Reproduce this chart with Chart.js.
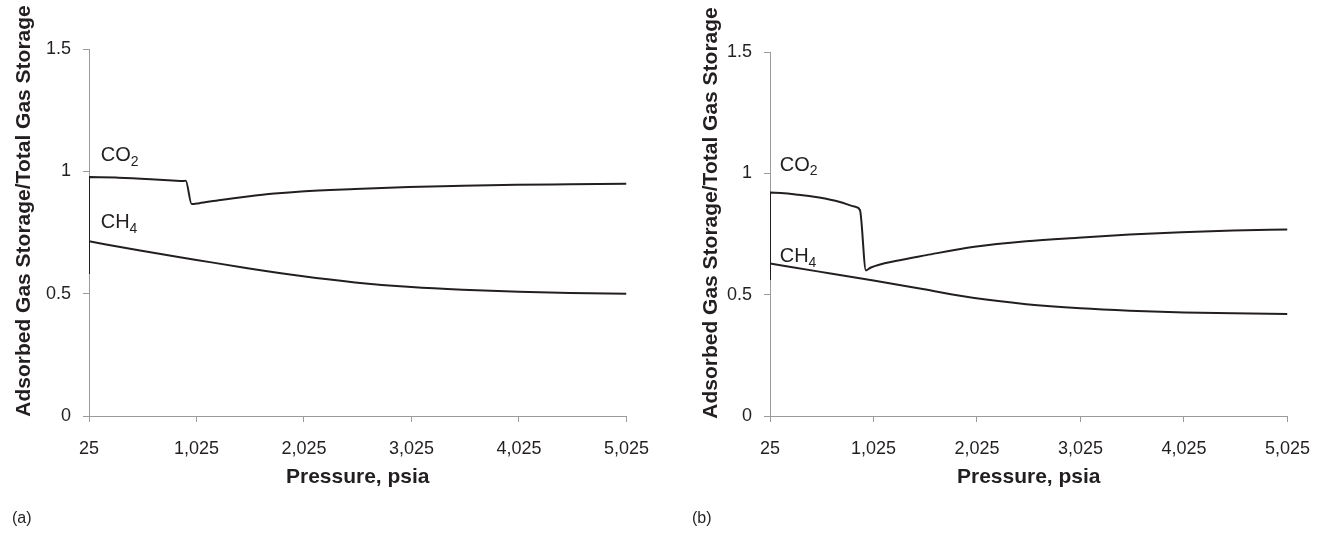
<!DOCTYPE html>
<html>
<head>
<meta charset="utf-8">
<script src="https://cdn.jsdelivr.net/npm/chart.js@4"></script>
<style>
  body { margin: 0; background: #fff; width: 1326px; height: 539px; overflow: hidden; font-family: "Liberation Sans", Arial, sans-serif; }
  .panel { position: absolute; top: 0; }
  .tag { position: absolute; top: 509px; font-size: 16px; color: #231f20; }
</style>
</head>
<body>
<div class="panel" style="left:0"><canvas id="chart-a" width="665" height="539"></canvas></div>
<div class="panel" style="left:680px"><canvas id="chart-b" width="646" height="539"></canvas></div>
<div class="tag" style="left:12px">(a)</div>
<div class="tag" style="left:692px">(b)</div>
<script>
// x axis ticks (pressure, psia)
const xTicks = [25, 1025, 2025, 3025, 4025, 5025];
const yTicks = [0, 0.5, 1, 1.5];

// (a) CO2
const pressA_co2 = [25, 25, 300, 600, 800, 900, 925, 980, 1050, 1250, 1500, 1750, 2000, 2500, 3000, 3500, 4000, 4500, 5025];
const ratioA_co2 = [0.58, 0.977, 0.974, 0.968, 0.963, 0.960, 0.962, 0.866, 0.870, 0.883, 0.897, 0.909, 0.918, 0.928, 0.936, 0.941, 0.945, 0.947, 0.949];
// (a) CH4
const pressA_ch4 = [25, 500, 1025, 1500, 2000, 2500, 3025, 3500, 4025, 4500, 5025];
const ratioA_ch4 = [0.714, 0.676, 0.638, 0.604, 0.572, 0.546, 0.527, 0.516, 0.508, 0.503, 0.500];

// (b) CO2
const pressB_co2 = [25, 25, 300, 500, 700, 850, 894, 952, 1000, 1250, 1537, 2000, 2500, 3000, 3500, 4000, 4500, 5025];
const ratioB_co2 = [0.56, 0.921, 0.912, 0.900, 0.882, 0.862, 0.849, 0.600, 0.612, 0.640, 0.663, 0.697, 0.720, 0.735, 0.748, 0.757, 0.764, 0.769];
// (b) CH4
const pressB_ch4 = [25, 500, 1025, 1500, 2000, 2500, 3025, 3500, 4025, 4500, 5025];
const ratioB_ch4 = [0.628, 0.595, 0.558, 0.523, 0.486, 0.461, 0.444, 0.434, 0.427, 0.423, 0.420];

const yTitleText = 'Adsorbed Gas Storage/Total Gas Storage';
const xTitleText = 'Pressure, psia';

const textColor = '#231f20';
const axisColor = '#9a9a9a';
const fontFamily = '"Liberation Sans", Arial, sans-serif';

const toPoints = (xs, ys) => xs.map((x, i) => ({ x: x, y: ys[i] }));

// draws the CO2 / CH4 labels with subscripts at data positions
const seriesLabels = {
    id: 'seriesLabels',
    afterDatasetsDraw(chart, args, opts) {
        const ctx = chart.ctx;
        const xs = chart.scales.x, ys = chart.scales.y;
        ctx.save();
        ctx.fillStyle = textColor;
        ctx.textBaseline = 'middle';
        ctx.textAlign = 'left';
        opts.items.forEach(item => {
            const px = xs.getPixelForValue(item.x);
            const py = ys.getPixelForValue(item.y);
            ctx.font = '20px ' + fontFamily;
            ctx.fillText(item.text, px, py);
            const w = ctx.measureText(item.text).width;
            ctx.font = '14px ' + fontFamily;
            ctx.fillText(item.sub, px + w, py + 6);
        });
        ctx.restore();
    }
};

// y axis title, sits a bit higher than the plot centre like the original
const yTitle = {
    id: 'yTitle',
    afterDraw(chart, args, opts) {
        const ctx = chart.ctx;
        ctx.save();
        ctx.translate(opts.x, opts.y);
        ctx.rotate(-Math.PI / 2);
        ctx.textAlign = 'center';
        ctx.textBaseline = 'middle';
        ctx.fillStyle = textColor;
        ctx.font = 'bold 21px ' + fontFamily;
        ctx.fillText(yTitleText, 0, 0);
        ctx.restore();
    }
};

function makeChart(id, co2, ch4, labels, pad, yWidth, titlePos) {
    const ctx = document.getElementById(id).getContext('2d');
    return new Chart(ctx, {
        type: 'line',
        data: {
            datasets: [
                { label: 'CO2', data: co2, borderColor: textColor, borderWidth: 2, pointRadius: 0, cubicInterpolationMode: 'monotone', fill: false },
                { label: 'CH4', data: ch4, borderColor: textColor, borderWidth: 2, pointRadius: 0, cubicInterpolationMode: 'monotone', fill: false }
            ]
        },
        plugins: [seriesLabels, yTitle],
        options: {
            responsive: false,
            animation: false,
            layout: { padding: pad },
            plugins: {
                legend: { display: false },
                tooltip: { enabled: false },
                seriesLabels: { items: labels },
                yTitle: titlePos
            },
            scales: {
                x: {
                    type: 'linear',
                    min: 25,
                    max: 5025,
                    afterBuildTicks: axis => { axis.ticks = xTicks.map(v => ({ value: v })); },
                    afterFit: scale => { scale.height = 74; },
                    grid: { drawOnChartArea: false, drawTicks: true, tickLength: 6, color: axisColor },
                    border: { color: axisColor, width: 1 },
                    ticks: {
                        color: textColor, padding: 16, maxRotation: 0, autoSkip: false,
                        font: { family: fontFamily, size: 18 },
                        callback: v => v.toLocaleString('en-US')
                    },
                    title: {
                        display: true, text: xTitleText, color: textColor,
                        font: { family: fontFamily, size: 21, weight: 'bold' },
                        padding: { top: 0, bottom: 0 }
                    }
                },
                y: {
                    min: 0,
                    max: 1.5,
                    afterBuildTicks: axis => { axis.ticks = yTicks.map(v => ({ value: v })); },
                    afterFit: scale => { scale.width = yWidth; },
                    grid: { drawOnChartArea: false, drawTicks: true, tickLength: 6, color: axisColor },
                    border: { color: axisColor, width: 1 },
                    ticks: {
                        color: textColor, padding: 12,
                        font: { family: fontFamily, size: 18 },
                        callback: v => String(v)
                    },
                    title: { display: false }
                }
            }
        }
    });
}

makeChart('chart-a',
    toPoints(pressA_co2, ratioA_co2),
    toPoints(pressA_ch4, ratioA_ch4),
    [{ text: 'CO', sub: '2', x: 134, y: 1.064 }, { text: 'CH', sub: '4', x: 134, y: 0.79 }],
    { left: 14, top: 49, right: 38, bottom: 49 }, 75, { x: 24, y: 211 });

makeChart('chart-b',
    toPoints(pressB_co2, ratioB_co2),
    toPoints(pressB_ch4, ratioB_ch4),
    [{ text: 'CO', sub: '2', x: 119, y: 1.034 }, { text: 'CH', sub: '4', x: 119, y: 0.656 }],
    { left: 20, top: 52, right: 37, bottom: 49 }, 70, { x: 31, y: 213 });
</script>
</body>
</html>
